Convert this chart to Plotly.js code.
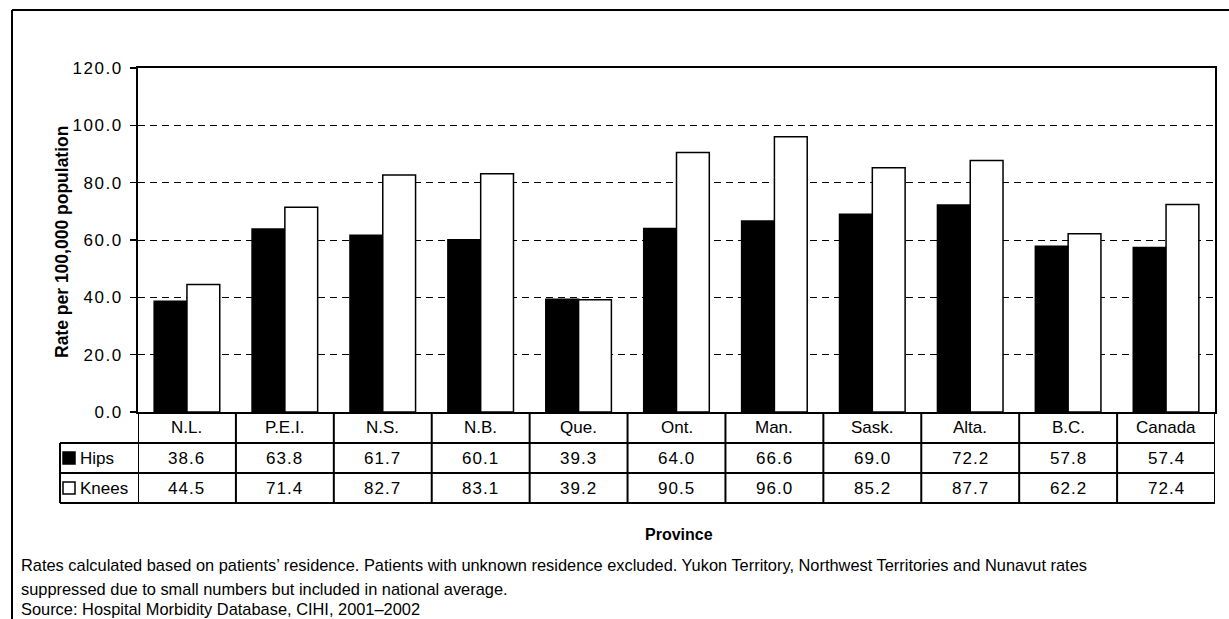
<!DOCTYPE html>
<html>
<head>
<meta charset="utf-8">
<script src="https://cdn.plot.ly/plotly-3.0.1.min.js"></script>
<style>
html,body{margin:0;padding:0;background:#fff;}
#chart{width:1229px;height:619px;}
#chart .ytick text{letter-spacing:1.5px;}
</style>
</head>
<body>
<div id="chart"></div>
<script>
const provinces = ["N.L.","P.E.I.","N.S.","N.B.","Que.","Ont.","Man.","Sask.","Alta.","B.C.","Canada"];
const hips  = [38.6, 63.8, 61.7, 60.1, 39.3, 64.0, 66.6, 69.0, 72.2, 57.8, 57.4];
const knees = [44.5, 71.4, 82.7, 83.1, 39.2, 90.5, 96.0, 85.2, 87.7, 62.2, 72.4];
const seriesNames = ["Hips", "Knees"];
const yTicks = [0, 20, 40, 60, 80, 100, 120];
const yTitle = "Rate per 100,000 population";
const xTitle = "Province";
const notes = [
  "Rates calculated based on patients\u2019 residence. Patients with unknown residence excluded. Yukon Territory, Northwest Territories and Nunavut rates",
  "suppressed due to small numbers but included in national average.",
  "Source: Hospital Morbidity Database, CIHI, 2001\u20132002"
];

const W = 1229, H = 619;
const mL = 138, mR = 14, mT = 68, mB = 207;
const pw = W - mL - mR, ph = H - mT - mB;
const px = x => (x - mL) / pw;          // pixel x -> paper x
const py = y => (H - mB - y) / ph;      // pixel y -> paper y
const FONT = "Liberation Sans, Arial, sans-serif";

const idx = provinces.map((_, i) => i);

const traces = [
  {type: "bar", name: seriesNames[0], x: idx, y: hips,
   marker: {color: "#000000", line: {color: "#000000", width: 1.5}}, hoverinfo: "y"},
  {type: "bar", name: seriesNames[1], x: idx, y: knees,
   marker: {color: "#ffffff", line: {color: "#000000", width: 1.5}}, hoverinfo: "y"}
];

const shapes = [];
const annotations = [];
const lineStyle = {color: "#000", width: 2};

// outer frame (left and top)
shapes.push({type: "line", xref: "paper", yref: "paper", x0: px(12), x1: px(12), y0: py(10), y1: py(H + 5), line: lineStyle});
shapes.push({type: "line", xref: "paper", yref: "paper", x0: px(12), x1: px(W + 5), y0: py(10), y1: py(10), line: lineStyle});

// table rows
const yHdrBot = 443, yHipsBot = 473, yKneesBot = 503, yAxis = H - mB;
[yHdrBot, yHipsBot, yKneesBot].forEach(y => {
  shapes.push({type: "line", xref: "paper", yref: "paper", x0: px(60), x1: 1, y0: py(y), y1: py(y), line: lineStyle});
});
// vertical category dividers
for (let i = 0; i <= provinces.length; i++) {
  shapes.push({type: "line", xref: "x", yref: "paper", x0: i - 0.5, x1: i - 0.5, y0: 0, y1: py(yKneesBot), line: lineStyle});
}
// left label column border
shapes.push({type: "line", xref: "paper", yref: "paper", x0: px(60), x1: px(60), y0: py(yHdrBot), y1: py(yKneesBot), line: lineStyle});

// legend keys
shapes.push({type: "rect", xref: "paper", yref: "paper", x0: px(63), x1: px(75), y0: py(464), y1: py(452),
  fillcolor: "#000", line: {color: "#000", width: 1.5}});
shapes.push({type: "rect", xref: "paper", yref: "paper", x0: px(63), x1: px(75), y0: py(494), y1: py(482),
  fillcolor: "#fff", line: {color: "#000", width: 1.5}});

const tf = {family: FONT, size: 17, color: "#000"};
const num = v => '<span style="letter-spacing:1px">' + v.toFixed(1) + '</span>';
provinces.forEach((p, i) => {
  annotations.push({xref: "x", yref: "paper", x: i, y: py((yAxis + yHdrBot) / 2), text: p, showarrow: false, font: tf, xanchor: "center", yanchor: "middle"});
  annotations.push({xref: "x", yref: "paper", x: i, y: py((yHdrBot + yHipsBot) / 2), text: num(hips[i]), showarrow: false, font: tf, xanchor: "center", yanchor: "middle"});
  annotations.push({xref: "x", yref: "paper", x: i, y: py((yHipsBot + yKneesBot) / 2), text: num(knees[i]), showarrow: false, font: tf, xanchor: "center", yanchor: "middle"});
});
annotations.push({xref: "paper", yref: "paper", x: px(78), y: py((yHdrBot + yHipsBot) / 2), text: seriesNames[0], showarrow: false, font: tf, xanchor: "left", yanchor: "middle"});
annotations.push({xref: "paper", yref: "paper", x: px(78), y: py((yHipsBot + yKneesBot) / 2), text: seriesNames[1], showarrow: false, font: tf, xanchor: "left", yanchor: "middle"});

// axis titles
annotations.push({xref: "paper", yref: "paper", x: px(62), y: py(242), text: "<b>" + yTitle + "</b>", textangle: -90,
  showarrow: false, font: {family: FONT, size: 17.5, color: "#000"}, xanchor: "center", yanchor: "middle"});
annotations.push({xref: "paper", yref: "paper", x: px(679), y: py(534), text: "<b>" + xTitle + "</b>",
  showarrow: false, font: {family: FONT, size: 16, color: "#000"}, xanchor: "center", yanchor: "middle"});

// notes
const noteY = [565, 589, 609];
notes.forEach((n, k) => {
  annotations.push({xref: "paper", yref: "paper", x: px(19), y: py(noteY[k]), text: n, showarrow: false,
    font: {family: FONT, size: 16.4, color: "#000"}, xanchor: "left", yanchor: "middle"});
});

const layout = {
  width: W, height: H,
  margin: {l: mL, r: mR, t: mT, b: mB, pad: 0},
  paper_bgcolor: "#fff", plot_bgcolor: "#fff",
  showlegend: false,
  barmode: "group", bargap: 0.33, bargroupgap: 0,
  font: {family: FONT, color: "#000"},
  xaxis: {range: [-0.5, provinces.length - 0.5], showticklabels: false, ticks: "",
    showgrid: false, zeroline: false, showline: true, mirror: true, linecolor: "#000", linewidth: 2, fixedrange: true},
  yaxis: {range: [0, 120], tickvals: yTicks, tickformat: ".1f", ticks: "outside", ticklen: 6, tickwidth: 1.5, tickcolor: "#000",
    ticklabelstandoff: 4,
    tickfont: {family: FONT, size: 17, color: "#000"}, showgrid: true, gridcolor: "#000", gridwidth: 1, griddash: "7px,5px",
    zeroline: false, showline: true, mirror: true, linecolor: "#000", linewidth: 2, fixedrange: true},
  shapes: shapes,
  annotations: annotations
};

Plotly.newPlot("chart", traces, layout, {displayModeBar: false, staticPlot: true});
</script>
</body>
</html>
